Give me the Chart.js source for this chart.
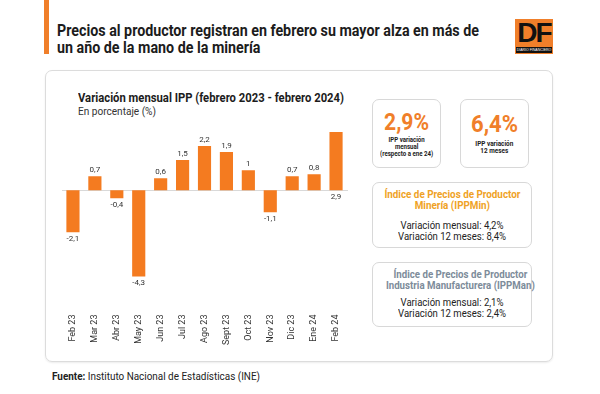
<!DOCTYPE html>
<html lang="es">
<head>
<meta charset="utf-8">
<script src="https://cdn.jsdelivr.net/npm/chart.js@4"></script>
<style>
  * { margin: 0; padding: 0; box-sizing: border-box; }
  body { width: 600px; height: 394px; background: #fff; font-family: "Roboto", sans-serif; color: #222; position: relative; overflow: hidden; }
  .abs { position: absolute; white-space: nowrap; }
  .fit { display: inline-block; white-space: nowrap; }
  .center { text-align: center; }
  .center .fit { transform-origin: center top; }
  .abs > .fit { transform-origin: left top; }
  #bar { left: 44px; top: 0; width: 5px; height: 54px; background: #f07f2a; }
  #title { left: 57px; top: 22px; font-size: 16px; font-weight: bold; line-height: 17px; color: #1c1c1c; }
  #logo { left: 515px; top: 19px; width: 38px; height: 35px; background: #f07f2a; }
  #logo .df { position: absolute; left: 0; right: 0; top: 0px; text-align: center; font-family: "Liberation Sans", Arial, sans-serif; font-size: 28px; font-weight: bold; letter-spacing: -2px; color: #111; line-height: 28px; }
  #logo .strip { position: absolute; left: 1px; right: 1px; bottom: 1px; height: 6px; background: #111; color: #fff; font-size: 3.5px; line-height: 6px; text-align: center; font-family: "Liberation Sans", Arial, sans-serif; }
  #card { left: 45px; top: 70px; width: 508px; height: 292px; border: 1px solid #dcdcdc; border-radius: 7px; box-shadow: 0 1px 2px rgba(0,0,0,0.08); }
  #ctitle { left: 78px; top: 90px; font-size: 13px; font-weight: bold; line-height: 15px; color: #1c1c1c; }
  #csub { left: 78px; top: 105px; font-size: 11px; line-height: 13px; color: #333; }
  #chartBox { left: 55px; top: 120px; width: 300px; height: 229px; }
  .box { position: absolute; border: 1px solid #d8d8d8; border-radius: 7px; }
  .txt { position: absolute; text-align: center; }
  .big { font-size: 23px; font-weight: bold; color: #f07f2a; line-height: 24px; }
  .small { font-size: 7.5px; font-weight: bold; line-height: 7px; color: #222; }
  .btitle { font-size: 11.5px; font-weight: bold; line-height: 11px; }
  .bbody { font-size: 11.5px; line-height: 11px; color: #222; }
  #foot { left: 52px; top: 369px; font-size: 11.5px; line-height: 14px; color: #222; }
</style>
</head>
<body>
<div class="abs" id="bar"></div>
<div class="abs" id="title"><span class="fit" data-w="422">Precios al productor registran en febrero su mayor alza en más de<br>un año de la mano de la minería</span></div>
<div class="abs" id="logo"><div class="df">DF</div><div class="strip">DIARIO FINANCIERO</div></div>

<div class="abs" id="card"></div>
<div class="abs" id="ctitle"><span class="fit" data-w="266">Variación mensual IPP (febrero 2023 - febrero 2024)</span></div>
<div class="abs" id="csub"><span class="fit" data-w="78">En porcentaje (%)</span></div>
<div class="abs" id="chartBox"><canvas id="ippChart"></canvas></div>

<div class="box" style="left:372px;top:99px;width:69px;height:69px;"></div>
<div class="txt center big" style="left:372px;width:69px;top:111px;"><span class="fit" data-w="45">2,9%</span></div>
<div class="txt center small" style="left:372px;width:69px;top:136px;"><span class="fit" data-w="53">IPP variación<br>mensual<br>(respecto a ene 24)</span></div>

<div class="box" style="left:460px;top:99px;width:69px;height:69px;"></div>
<div class="txt center big" style="left:460px;width:69px;top:113px;"><span class="fit" data-w="47">6,4%</span></div>
<div class="txt center small" style="left:460px;width:69px;top:140px;"><span class="fit" data-w="38">IPP variación<br>12 meses</span></div>

<div class="box" style="left:372px;top:182px;width:160px;height:66px;"></div>
<div class="txt center btitle" style="left:372px;width:160px;top:189px;color:#efa225;"><span class="fit" data-w="136">Índice de Precios de Productor<br>Minería (IPPMin)</span></div>
<div class="txt center bbody" style="left:372px;width:160px;top:220px;"><span class="fit" data-w="108">Variación mensual: 4,2%<br>Variación 12 meses: 8,4%</span></div>

<div class="box" style="left:372px;top:262px;width:160px;height:65px;"></div>
<div class="txt center btitle" style="left:372px;width:160px;top:269px;color:#7d8c9a;"><span class="fit" data-w="149">Índice de Precios de Productor<br>Industria Manufacturera (IPPMan)</span></div>
<div class="txt center bbody" style="left:372px;width:160px;top:297px;"><span class="fit" data-w="108">Variación mensual: 2,1%<br>Variación 12 meses: 2,4%</span></div>

<div class="abs" id="foot"><span class="fit" data-w="208"><b>Fuente:</b> Instituto Nacional de Estadísticas (INE)</span></div>

<script>
const months = ["Feb 23", "Mar 23", "Abr 23", "May 23", "Jun 23", "Jul 23", "Ago 23", "Sept 23", "Oct 23", "Nov 23", "Dic 23", "Ene 24", "Feb 24"];
const ippMensual = [-2.1, 0.7, -0.4, -4.3, 0.6, 1.5, 2.2, 1.9, 1, -1.1, 0.7, 0.8, 2.9];

const orange = "#f47b20";

// squeeze text to the condensed widths of the original
document.querySelectorAll(".fit").forEach(el => {
  const w = el.getBoundingClientRect().width;
  el.style.transform = `scaleX(${el.dataset.w / w})`;
});

// baseline + value labels (comma decimals)
const labelPlugin = {
  id: "valueLabels",
  beforeDatasetsDraw(chart) {
    const { ctx, chartArea, scales } = chart;
    const y0 = Math.round(scales.y.getPixelForValue(0)) + 0.5;
    ctx.save();
    ctx.strokeStyle = "#d9d9d9";
    ctx.lineWidth = 1;
    ctx.beginPath();
    ctx.moveTo(chartArea.left, y0);
    ctx.lineTo(chartArea.right + 1, y0);
    ctx.stroke();
    ctx.restore();
  },
  afterDatasetsDraw(chart) {
    const { ctx, scales } = chart;
    const meta = chart.getDatasetMeta(0);
    const y0 = scales.y.getPixelForValue(0);
    ctx.save();
    ctx.font = "8px Roboto";
    ctx.fillStyle = "#333";
    ctx.textAlign = "center";
    meta.data.forEach((bar, i) => {
      const v = ippMensual[i];
      const txt = String(v).replace(".", ",");
      if (i === ippMensual.length - 1) {
        // last bar: label sits under the baseline
        ctx.textBaseline = "top";
        ctx.fillText(txt, bar.x, y0 + 3);
      } else if (v >= 0) {
        ctx.textBaseline = "bottom";
        ctx.fillText(txt, bar.x, bar.y - 2);
      } else {
        ctx.textBaseline = "top";
        ctx.fillText(txt, bar.x, bar.y + 3);
      }
    });
    ctx.restore();
  }
};

new Chart(document.getElementById("ippChart"), {
  type: "bar",
  data: {
    labels: months,
    datasets: [{
      data: ippMensual,
      backgroundColor: orange,
      barPercentage: 0.6,
      categoryPercentage: 1
    }]
  },
  options: {
    responsive: true,
    maintainAspectRatio: false,
    animation: false,
    layout: { padding: { left: 7, right: 8, top: 0, bottom: 0 } },
    plugins: { legend: { display: false }, tooltip: { enabled: false } },
    scales: {
      x: {
        grid: { display: false, drawTicks: false },
        border: { display: false },
        ticks: {
          minRotation: 90,
          maxRotation: 90,
          padding: 4,
          color: "#333",
          font: { family: "Roboto", size: 9 }
        }
      },
      y: { display: false, min: -6, max: 3.5 }
    }
  },
  plugins: [labelPlugin]
});
</script>
</body>
</html>
